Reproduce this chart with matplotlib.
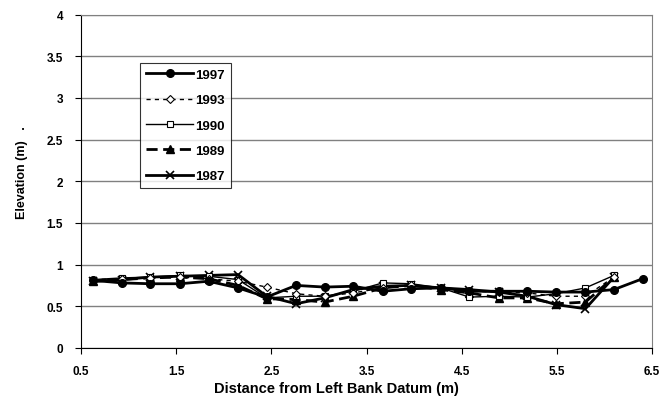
import matplotlib
matplotlib.use("Agg")
import matplotlib.pyplot as plt

plt.rcParams['font.family'] = ['Liberation Sans', 'DejaVu Sans']

# distance from left bank datum (m)
dist = [0.63, 0.93, 1.23, 1.54, 1.84, 2.15, 2.45, 2.76, 3.06, 3.36,
        3.67, 3.97, 4.28, 4.58, 4.89, 5.19, 5.49, 5.80, 6.10, 6.40]

# elevations (m) per survey year
y1997 = [0.81, 0.78, 0.77, 0.77, 0.80, 0.72, 0.61, 0.75, 0.73, 0.74,
         0.68, 0.71, 0.72, 0.68, 0.68, 0.68, 0.67, 0.67, 0.70, 0.83]
y1993 = [0.82, 0.83, 0.84, 0.85, 0.83, 0.80, 0.73, 0.65, 0.62, 0.66,
         0.72, 0.75, 0.72, 0.68, 0.67, 0.66, 0.62, 0.62, 0.85]
y1990 = [0.82, 0.84, 0.85, 0.87, 0.86, 0.82, 0.60, 0.62, 0.62, 0.68,
         0.78, 0.77, 0.72, 0.61, 0.62, 0.61, 0.65, 0.72, 0.87]
y1989 = [0.80, 0.82, 0.84, 0.85, 0.83, 0.75, 0.59, 0.58, 0.55, 0.62,
         0.72, 0.75, 0.70, 0.66, 0.60, 0.60, 0.53, 0.55, 0.85]
y1987 = [0.80, 0.82, 0.85, 0.86, 0.87, 0.88, 0.62, 0.53, 0.60, 0.70,
         0.74, 0.75, 0.72, 0.70, 0.67, 0.62, 0.52, 0.47, 0.85]

yticks = [0, 0.5, 1, 1.5, 2, 2.5, 3, 3.5, 4]
xticks = [0.5, 1.5, 2.5, 3.5, 4.5, 5.5, 6.5]

fig = plt.figure(figsize=(6.65, 4.1), dpi=100)
ax = fig.add_axes([0.1218, 0.149, 0.8587, 0.813])

ax.plot(dist, y1997, color='black', lw=2, marker='o', ms=5.5, label='1997', zorder=5)
ax.plot(dist[:19], y1993, color='black', lw=1, ls=(0, (3, 3)), marker='D', ms=4,
        mfc='white', mew=0.8, label='1993', zorder=4)
ax.plot(dist[:19], y1990, color='black', lw=1, marker='s', ms=5, mfc='white',
        mew=0.8, label='1990', zorder=3)
ax.plot(dist[:19], y1989, color='black', lw=2, ls=(0, (4, 2)), marker='^', ms=5.5,
        label='1989', zorder=2)
ax.plot(dist[:19], y1987, color='black', lw=2, marker='x', ms=6, mew=1.2,
        label='1987', zorder=1)

ax.set_xlim(0.5, 6.5)
ax.set_ylim(0, 4)
ax.set_xticks(xticks)
ax.set_xticklabels([str(v) for v in xticks])
ax.set_yticks(yticks)
ax.set_yticklabels(['0', '0.5', '1', '1.5', '2', '2.5', '3', '3.5', '4'])
ax.tick_params(direction='out', length=4, width=0.8, labelsize=8.5)
ax.tick_params(axis='y', pad=9)
ax.tick_params(axis='x', pad=8)
for lab in ax.get_xticklabels() + ax.get_yticklabels():
    lab.set_fontweight('bold')

ax.grid(axis='y', color='#808080', lw=1)
ax.set_axisbelow(True)
for s in ['top', 'right']:
    ax.spines[s].set_color('#808080')
for s in ['left', 'bottom']:
    ax.spines[s].set_color('black')

ax.set_xlabel('Distance from Left Bank Datum (m)', fontsize=10.5, fontweight='bold')
ax.xaxis.set_label_coords(0.448, -0.1)
ax.set_ylabel('Elevation (m)   .', fontsize=9, fontweight='bold')
ax.yaxis.set_label_coords(-0.092, 0.53)

leg = ax.legend(loc='upper left', bbox_to_anchor=(0.103, 0.856),
                prop={'weight': 'bold', 'size': 9.5}, frameon=True, fancybox=False,
                edgecolor='black', handlelength=3.6, handletextpad=0.15,
                labelspacing=1.0, borderpad=0.45, borderaxespad=0)
leg.get_frame().set_linewidth(0.8)

fig.savefig('out.png', dpi=100)
